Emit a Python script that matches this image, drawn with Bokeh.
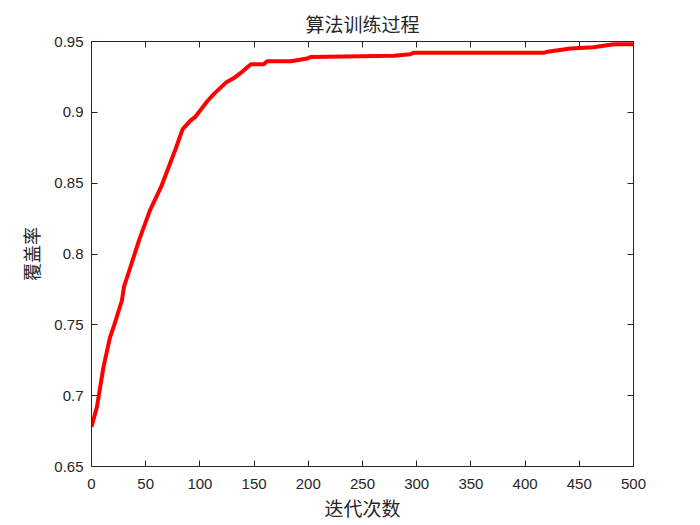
from bokeh.plotting import figure
from bokeh.models import Range1d, FixedTicker, LinearAxis
from bokeh.embed import file_html
from bokeh.resources import INLINE

# Data
iterations = [0, 5, 11, 17, 21, 28, 30, 36, 44, 54, 64, 70, 78, 84, 91, 96, 107, 113,
              124, 131, 138, 147, 159, 162, 184, 199, 202, 279, 294, 297, 417, 422,
              442, 463, 482, 487, 500]
coverage = [0.678, 0.692, 0.720, 0.741, 0.750, 0.767, 0.777, 0.791, 0.810, 0.831, 0.847,
            0.859, 0.875, 0.888, 0.894, 0.897, 0.908, 0.913, 0.921, 0.924, 0.928, 0.934,
            0.934, 0.936, 0.936, 0.938, 0.939, 0.940, 0.941, 0.942, 0.942, 0.943, 0.945,
            0.946, 0.948, 0.948, 0.948]

x_ticks = [0, 50, 100, 150, 200, 250, 300, 350, 400, 450, 500]
y_ticks = [0.65, 0.7, 0.75, 0.8, 0.85, 0.9, 0.95]
y_tick_labels = ["0.65", "0.7", "0.75", "0.8", "0.85", "0.9", "0.95"]

title_text = "算法训练过程"
x_label = "迭代次数"
y_label = "覆盖率"

TICK_FONT = "Liberation Sans"
CJK_FONT = "Noto Sans CJK SC"
INK = "#262626"

p = figure(width=700, height=525, output_backend="svg", toolbar_location=None,
           x_range=Range1d(0, 500), y_range=Range1d(0.65, 0.95),
           min_border_left=91, min_border_right=67, min_border_top=41,
           min_border_bottom=59, x_axis_location=None, y_axis_location=None)

p.title.text = title_text
p.title.align = "center"
p.title.text_font = CJK_FONT
p.title.text_font_size = "19px"
p.title.text_font_style = "normal"
p.title.text_color = INK
p.title.offset = 0

p.xgrid.visible = False
p.ygrid.visible = False
p.outline_line_color = INK
p.outline_line_width = 1
p.background_fill_color = "white"
p.border_fill_color = "white"

def style_axis(ax, ticks, show_labels, standoff=6):
    ax.ticker = FixedTicker(ticks=ticks)
    ax.major_tick_in = 6
    ax.major_tick_out = 0
    ax.minor_tick_in = 0
    ax.minor_tick_out = 0
    ax.axis_line_color = INK
    ax.major_tick_line_color = INK
    ax.major_label_text_font = TICK_FONT
    ax.major_label_text_font_size = "15px"
    ax.major_label_text_color = INK
    ax.major_label_standoff = standoff
    if not show_labels:
        ax.major_label_overrides = {t: "" for t in ticks}
        ax.major_label_standoff = 0

xb = LinearAxis(axis_label=x_label)
style_axis(xb, x_ticks, True, standoff=12)
xb.axis_label_text_font = CJK_FONT
xb.axis_label_text_font_size = "19px"
xb.axis_label_text_font_style = "normal"
xb.axis_label_text_color = INK
xb.axis_label_standoff = 2
p.add_layout(xb, "below")

yl = LinearAxis(axis_label=y_label)
style_axis(yl, y_ticks, True, standoff=8)
yl.major_label_overrides = {t: s for t, s in zip(y_ticks, y_tick_labels)}
yl.axis_label_text_font = CJK_FONT
yl.axis_label_text_font_size = "18px"
yl.axis_label_text_font_style = "normal"
yl.axis_label_text_color = INK
yl.axis_label_standoff = 7
p.add_layout(yl, "left")

xt = LinearAxis()
style_axis(xt, x_ticks, False)
p.add_layout(xt, "above")

yr = LinearAxis()
style_axis(yr, y_ticks, False)
p.add_layout(yr, "right")

p.line(iterations, coverage, line_color="#ff0000", line_width=4)

open("out.html", "w").write(file_html(p, INLINE))
